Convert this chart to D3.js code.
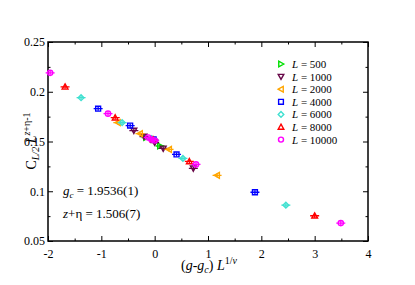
<!DOCTYPE html>
<html>
<head>
<meta charset="utf-8">
<script src="https://cdn.jsdelivr.net/npm/d3@7"></script>
<style>
  body { margin: 0; background: #fff; }
  .tick text { font-family: "Liberation Serif", "Times New Roman", serif; font-size: 12px; fill: #000; }
  .tick line { stroke: #000; }
  .domain { display: none; }
</style>
</head>
<body>
<div class="chart"></div>
<script>
// scaling collapse chart, C_{L/2} vs (g-gc) L^{1/nu}

var svgWidth = 415;
var svgHeight = 285;

var margin = {
  top: 42,
  right: 47,
  bottom: 44,
  left: 48
};

var width = svgWidth - margin.left - margin.right;
var height = svgHeight - margin.top - margin.bottom;

// data, one pair of arrays per system size
var sizes = [500, 1000, 2000, 4000, 6000, 8000, 10000];
var colors = ["#00e000", "#670748", "#ffa500", "#0000ff", "#40e0d0", "#ff0000", "#ff00ff"];
var shapes = ["right", "down", "left", "square", "diamond", "up", "circle"];

var x500 = [-0.16, 0.1];
var y500 = [0.154, 0.1455];
var x1000 = [-0.39, -0.2, 0.0, 0.16, 0.725];
var y1000 = [0.161, 0.155, 0.149, 0.143, 0.123];
var x2000 = [-0.69, -0.275, 0.27, 1.17];
var y2000 = [0.169, 0.158, 0.142, 0.116];
var x4000 = [-1.06, -0.46, -0.02, 0.41, 1.88];
var y4000 = [0.183, 0.166, 0.152, 0.137, 0.099];
var x6000 = [-1.38, -0.61, -0.06, 0.53, 2.46];
var y6000 = [0.194, 0.169, 0.153, 0.133, 0.086];
var x8000 = [-1.68, -0.74, -0.03, 0.65, 3.0];
var y8000 = [0.205, 0.174, 0.152, 0.13, 0.0754];
var x10000 = [-1.96, -0.875, -0.12, -0.06, 0.0, 0.775, 3.49];
var y10000 = [0.219, 0.178, 0.154, 0.152, 0.151, 0.127, 0.068];

var xSeries = [x500, x1000, x2000, x4000, x6000, x8000, x10000];
var ySeries = [y500, y1000, y2000, y4000, y6000, y8000, y10000];

var xTicks = [-2, -1, 0, 1, 2, 3, 4];
var yTicks = [0.05, 0.1, 0.15, 0.2, 0.25];

var serif = "'Liberation Serif', 'Times New Roman', serif";

var svg = d3
  .select(".chart")
  .append("svg")
  .attr("width", svgWidth)
  .attr("height", svgHeight);

var chartGroup = svg.append("g")
  .attr("transform", `translate(${margin.left}, ${margin.top})`);

var xLinearScale = d3.scaleLinear()
  .domain([-2, 4])
  .range([0, width]);

var yLinearScale = d3.scaleLinear()
  .domain([0.05, 0.25])
  .range([height, 0]);

// minor ticks
var xMinor = d3.range(-1.5, 4, 1);
var yMinor = d3.range(0.075, 0.25, 0.05);

// bottom axis, ticks pointing inward
chartGroup.append("g")
  .attr("transform", `translate(0, ${height})`)
  .call(d3.axisBottom(xLinearScale).tickValues(xTicks).tickSize(-5).tickPadding(8)
    .tickFormat(d => d < 0 ? "-" + Math.abs(d) : d));
chartGroup.append("g")
  .attr("transform", `translate(0, ${height})`)
  .call(d3.axisBottom(xLinearScale).tickValues(xMinor).tickSize(-2.5).tickFormat(""));

// top axis
chartGroup.append("g")
  .call(d3.axisTop(xLinearScale).tickValues(xTicks).tickSize(-5).tickFormat(""));
chartGroup.append("g")
  .call(d3.axisTop(xLinearScale).tickValues(xMinor).tickSize(-2.5).tickFormat(""));

// left axis
chartGroup.append("g")
  .call(d3.axisLeft(yLinearScale).tickValues(yTicks).tickSize(-5).tickPadding(3)
    .tickFormat(d => d3.format("")(+d.toFixed(2))));
chartGroup.append("g")
  .call(d3.axisLeft(yLinearScale).tickValues(yMinor).tickSize(-2.5).tickFormat(""));

// right axis
chartGroup.append("g")
  .attr("transform", `translate(${width}, 0)`)
  .call(d3.axisRight(yLinearScale).tickValues(yTicks).tickSize(-5).tickFormat(""));
chartGroup.append("g")
  .attr("transform", `translate(${width}, 0)`)
  .call(d3.axisRight(yLinearScale).tickValues(yMinor).tickSize(-2.5).tickFormat(""));

// frame
chartGroup.append("rect")
  .attr("width", width)
  .attr("height", height)
  .attr("fill", "none")
  .attr("stroke", "#000")
  .attr("stroke-width", 1.5);

// symbol paths
function symbolPath(shape, r) {
  if (shape === "up") return `M0,${-r}L${r},${r * 0.8}L${-r},${r * 0.8}Z`;
  if (shape === "down") return `M0,${r}L${r},${-r * 0.8}L${-r},${-r * 0.8}Z`;
  if (shape === "left") return `M${-r},0L${r * 0.8},${-r}L${r * 0.8},${r}Z`;
  if (shape === "right") return `M${r},0L${-r * 0.8},${-r}L${-r * 0.8},${r}Z`;
  if (shape === "square") return `M${-r * 0.85},${-r * 0.85}H${r * 0.85}V${r * 0.85}H${-r * 0.85}Z`;
  if (shape === "diamond") return `M0,${-r}L${r},0L0,${r}L${-r},0Z`;
  var k = r * 0.9;
  return `M${k},0A${k},${k} 0 1,1 ${-k},0A${k},${k} 0 1,1 ${k},0Z`;
}

// points with small error bars
sizes.forEach(function(L, i) {
  var pts = xSeries[i].map((v, j) => ({ x: v, y: ySeries[i][j] }));
  var g = chartGroup.append("g");

  var pg = g.selectAll("g.pt")
    .data(pts)
    .enter()
    .append("g")
    .attr("transform", d => `translate(${xLinearScale(d.x)}, ${yLinearScale(d.y)})`);

  pg.append("path")
    .attr("d", "M-4.5,0H4.5M0,-2V2")
    .attr("stroke", colors[i])
    .attr("stroke-width", 1.3);

  pg.append("path")
    .attr("d", symbolPath(shapes[i], 2.9))
    .attr("fill", "none")
    .attr("stroke", colors[i])
    .attr("stroke-width", 1.4);
});

// legend
var legend = svg.append("g").attr("transform", "translate(281, 64)");
sizes.forEach(function(L, i) {
  var row = legend.append("g").attr("transform", `translate(0, ${i * 12.6})`);
  row.append("path")
    .attr("d", symbolPath(shapes[i], 2.8))
    .attr("fill", "none")
    .attr("stroke", colors[i])
    .attr("stroke-width", 1.4);
  var t = row.append("text")
    .attr("x", 11)
    .attr("y", 4)
    .attr("font-family", serif)
    .attr("font-size", 11)
    .attr("fill", "#000");
  t.append("tspan").attr("font-style", "italic").text("L");
  t.append("tspan").text(" = " + L);
});

// annotations
var ann1 = svg.append("text")
  .attr("x", 63).attr("y", 195)
  .attr("font-family", serif).attr("font-size", 13);
ann1.append("tspan").attr("font-style", "italic").text("g");
ann1.append("tspan").attr("font-style", "italic").attr("font-size", 9).attr("dy", 3).text("c");
ann1.append("tspan").attr("dy", -3).text(" = 1.9536(1)");

var ann2 = svg.append("text")
  .attr("x", 63).attr("y", 218)
  .attr("font-family", serif).attr("font-size", 13);
ann2.append("tspan").attr("font-style", "italic").text("z");
ann2.append("tspan").text("+η = 1.506(7)");

// x axis label
var xLabel = svg.append("text")
  .attr("x", 209).attr("y", 270)
  .attr("text-anchor", "middle")
  .attr("font-family", serif).attr("font-size", 14);
xLabel.append("tspan").text("(");
xLabel.append("tspan").attr("font-style", "italic").text("g");
xLabel.append("tspan").text("-");
xLabel.append("tspan").attr("font-style", "italic").text("g");
xLabel.append("tspan").attr("font-style", "italic").attr("font-size", 10).attr("dy", 3).text("c");
xLabel.append("tspan").attr("dy", -3).text(") ");
xLabel.append("tspan").attr("font-style", "italic").text("L");
xLabel.append("tspan").attr("font-size", 10).attr("dy", -6).text("1/");
xLabel.append("tspan").attr("font-size", 10).attr("font-style", "italic").text("ν");

// y axis label
var yLabel = svg.append("text")
  .attr("transform", "translate(36, 141) rotate(-90)")
  .attr("text-anchor", "middle")
  .attr("font-family", serif).attr("font-size", 14);
yLabel.append("tspan").text("C");
yLabel.append("tspan").attr("font-style", "italic").attr("font-size", 10).attr("dy", 3).text("L/2");
yLabel.append("tspan").attr("dy", -3).text(" ");
yLabel.append("tspan").attr("font-style", "italic").text("L");
yLabel.append("tspan").attr("font-style", "italic").attr("font-size", 10).attr("dy", -6).text("z");
yLabel.append("tspan").attr("font-size", 10).text("+η-1");
</script>
</body>
</html>
